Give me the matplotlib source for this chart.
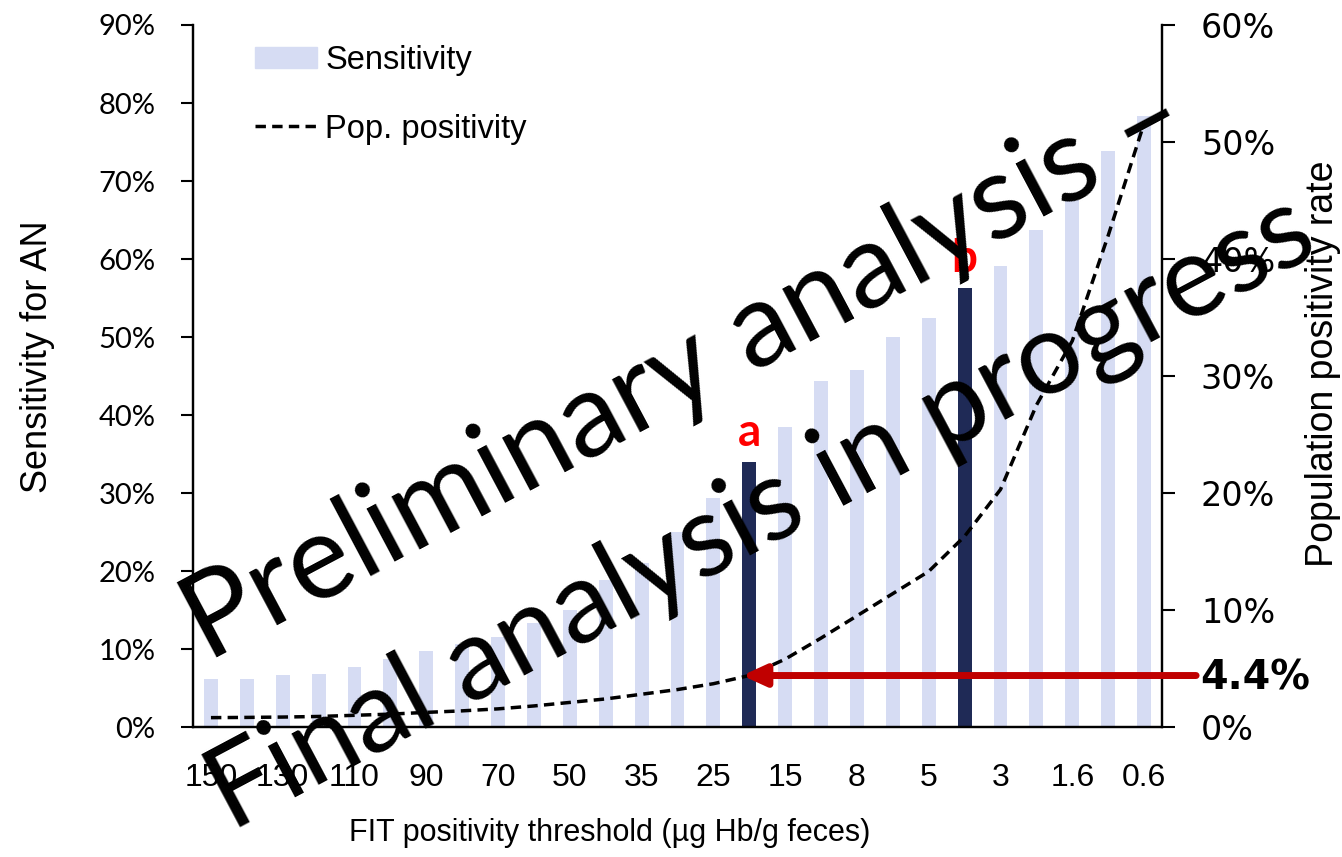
import matplotlib
matplotlib.use('Agg')
import matplotlib.pyplot as plt
import numpy as np

# FIT thresholds (ug Hb/g feces), one bar per threshold
thresholds = ['150', '140', '130', '120', '110', '100', '90', '80', '70', '60',
              '50', '40', '35', '30', '25', '20', '15', '10', '8', '6',
              '5', '4', '3', '2', '1.6', '1', '0.6']

# Sensitivity for AN (%) - left axis
sensitivity = [6.2, 6.2, 6.7, 6.8, 7.7, 8.7, 9.7, 10.6, 11.6, 13.3,
               15.0, 18.8, 21.0, 25.0, 29.4, 34.0, 38.4, 44.3, 45.8, 50.0,
               52.4, 56.3, 59.1, 63.7, 67.6, 73.9, 78.3]

# Population positivity rate (%) - right axis
pop_positivity = [0.8, 0.82, 0.85, 0.9, 1.0, 1.1, 1.25, 1.38, 1.55, 1.8,
                  2.1, 2.4, 2.8, 3.2, 3.7, 4.4, 5.8, 7.6, 9.5, 11.4,
                  13.3, 16.3, 20.3, 27.5, 33.0, 42.0, 51.6]

# highlighted thresholds
highlight = {'20': 'a', '4': 'b'}
arrow_value = 4.4

light = '#D6DCF3'
dark = '#1F2A56'
red_arrow = '#C00000'
sans = ['Liberation Sans', 'DejaVu Sans']

x = np.arange(len(thresholds))
colors = [dark if t in highlight else light for t in thresholds]

fig = plt.figure(figsize=(13.42, 8.57), dpi=100)
ax = fig.add_axes([193 / 1342, 1 - 727 / 857, 969 / 1342, 702 / 857])
ax2 = ax.twinx()

ax.bar(x, sensitivity, width=0.39, color=colors, zorder=2)
line, = ax2.plot(x, pop_positivity, color='black', lw=2.5, zorder=3)
line.set_dashes([3, 1.8])

ax.set_xlim(-0.5, len(thresholds) - 0.5)
ax.set_ylim(0, 90)
ax2.set_ylim(0, 60)
ax.set_yticks(np.arange(0, 91, 10))
ax.set_yticklabels([f'{v}%' for v in range(0, 91, 10)], family='Lato', fontsize=21)
ax2.set_yticks(np.arange(0, 61, 10))
ax2.set_yticklabels([f'{v}%' for v in range(0, 61, 10)], family='DejaVu Sans', fontsize=24)
ax.set_xticks(x[::2])
ax.set_xticklabels(thresholds[::2], family=sans, fontsize=23)

ax.tick_params(axis='x', length=0, pad=26)
ax.tick_params(axis='y', length=9, width=1.5, direction='out', pad=18)
ax2.tick_params(axis='y', length=9, width=1.5, direction='out', pad=19)

for a in (ax, ax2):
    a.spines['top'].set_visible(False)
    for s in ('left', 'right', 'bottom'):
        a.spines[s].set_linewidth(1.6)

ax.set_xlabel('FIT positivity threshold (µg Hb/g feces)', family=sans, fontsize=22)
ax.xaxis.set_label_coords(0.43, -0.13)
ax.set_ylabel('Sensitivity for AN', family=sans, fontsize=26)
ax.yaxis.set_label_coords(-0.142, 0.528)
ax2.set_ylabel('Population positivity rate', family=sans, fontsize=27)
ax2.yaxis.set_label_coords(1.148, 0.518)

# legend
handles = [plt.Rectangle((0, 0), 1, 1, color=light), line]
ax.legend(handles, ['Sensitivity', 'Pop. positivity'], loc='upper left',
          bbox_to_anchor=(62 / 969, 1 - 20 / 702), frameon=False,
          borderpad=0, borderaxespad=0, handlelength=1.9,
          handleheight=0.65, handletextpad=0.25, labelspacing=1.15,
          prop={'family': sans, 'size': 23.5})

# red letters over the highlighted bars
for t, letter in highlight.items():
    i = thresholds.index(t)
    ax.text(i, sensitivity[i] + 1, letter, color='red', fontsize=33,
            fontweight='bold', family='Lato', ha='center', va='bottom', zorder=4)

# arrow pointing at the pop. positivity of threshold 20
i_a = thresholds.index('20')
ax2.annotate('', xy=(i_a - 0.2, arrow_value), xytext=(27.45, arrow_value),
             arrowprops=dict(arrowstyle='-|>,head_length=0.7,head_width=0.32',
                             color=red_arrow, lw=5, mutation_scale=20,
                             shrinkA=0, shrinkB=0),
             annotation_clip=False, zorder=5)
fig.text(1200 / 1342, 1 - 678 / 857, f'{arrow_value}%', family='DejaVu Sans',
         fontweight='bold', fontsize=28.5, ha='left', va='center')

# watermark
fig.text(701 / 1342, 1 - 400 / 857, 'Preliminary analysis –', family='Lato',
         fontsize=85, rotation=28, rotation_mode='anchor', ha='center',
         va='baseline', zorder=10)
fig.text(776 / 1342, 1 - 542 / 857, 'Final analysis in progress', family='Lato',
         fontsize=82, rotation=28, rotation_mode='anchor', ha='center',
         va='baseline', zorder=10)

fig.savefig('out.png', dpi=100)
